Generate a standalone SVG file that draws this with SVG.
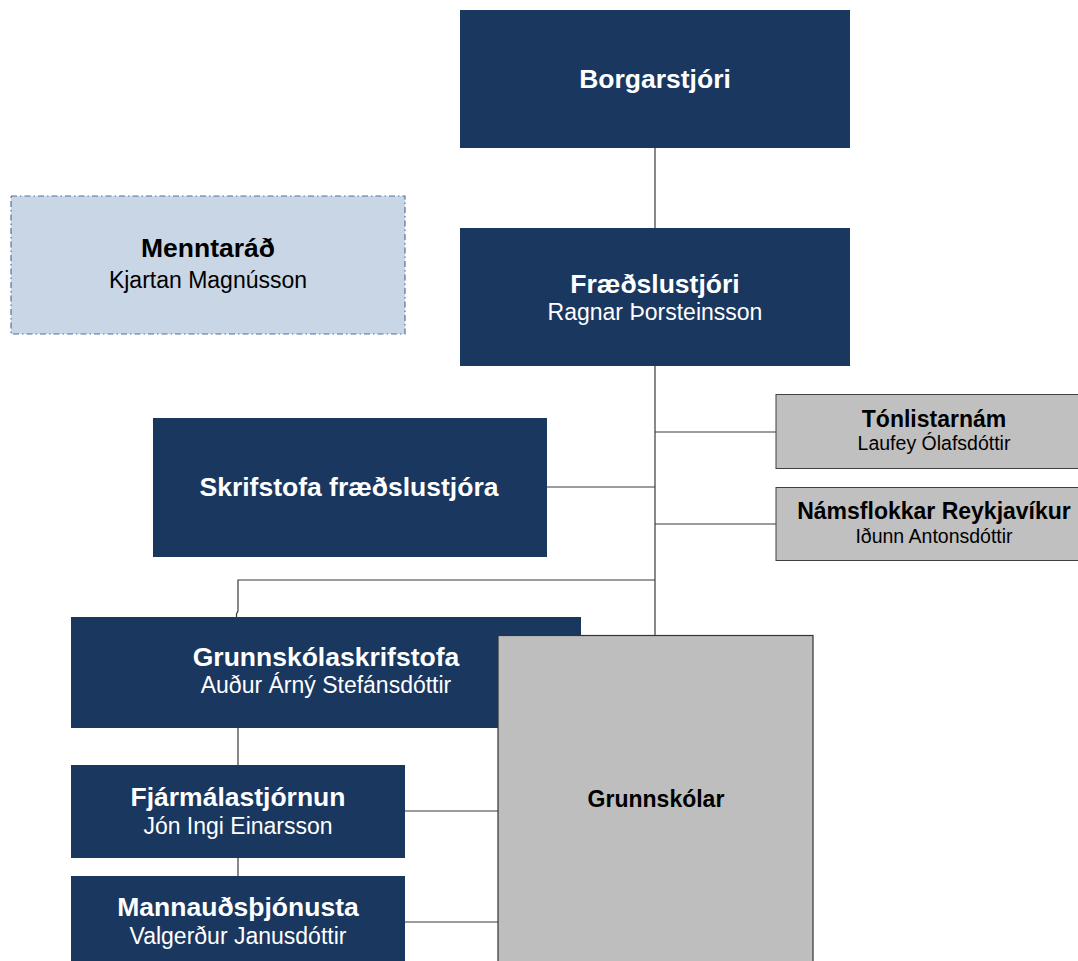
<svg xmlns="http://www.w3.org/2000/svg" width="1078" height="961" viewBox="0 0 1078 961">
<style>
.navy{fill:#1a3760;}
.grey{fill:#c0c0c0;stroke:#404040;stroke-width:1;}
.light{fill:#c9d6e6;stroke:#4f73a0;stroke-width:1.2;stroke-dasharray:6,3,1.5,3;}
.conn{stroke:#3a3a3a;stroke-width:1.2;fill:none;}
text{font-family:"Liberation Sans",Arial,sans-serif;text-anchor:middle;}
.tb{font-weight:bold;font-size:26.5px;fill:#fff;}
.tr{font-size:23px;fill:#fff;}
.sb{font-weight:bold;font-size:23px;fill:#000;}
.sr{font-size:19.5px;fill:#000;}
.mb{font-weight:bold;font-size:26.5px;fill:#000;}
.mr{font-size:23px;fill:#000;}
</style>
<rect width="1078" height="961" fill="#fff"/>
<g id="connectors">
<line class="conn" x1="655" y1="148" x2="655" y2="228"/>
<line class="conn" x1="655" y1="366" x2="655" y2="635"/>
<line class="conn" x1="655" y1="432" x2="776" y2="432"/>
<line class="conn" x1="655" y1="524" x2="776" y2="524"/>
<line class="conn" x1="547" y1="487" x2="655" y2="487"/>
<polyline class="conn" points="655,580 238,580 238,611 236.5,614 236.5,617"/>
<line class="conn" x1="238" y1="728" x2="238" y2="765"/>
<line class="conn" x1="238" y1="857" x2="238" y2="876"/>
<line class="conn" x1="405" y1="811" x2="498" y2="811"/>
<line class="conn" x1="405" y1="922" x2="498" y2="922"/>
</g>
<g id="borgarstjori">
<rect class="navy" x="460" y="10" width="390" height="138"/>
<text class="tb" x="655" y="88">Borgarstjóri</text>
</g>
<g id="menntarad">
<rect class="light" x="11" y="196" width="394" height="138"/>
<text class="mb" x="208" y="257">Menntaráð</text>
<text class="mr" x="208" y="288">Kjartan Magnússon</text>
</g>
<g id="fraedslustjori">
<rect class="navy" x="460" y="228" width="390" height="138"/>
<text class="tb" x="655" y="293">Fræðslustjóri</text>
<text class="tr" x="655" y="320">Ragnar Þorsteinsson</text>
</g>
<g id="tonlistarnam">
<rect class="grey" x="776" y="394.5" width="320" height="74"/>
<text class="sb" x="934" y="427">Tónlistarnám</text>
<text class="sr" x="934" y="450">Laufey Ólafsdóttir</text>
</g>
<g id="namsflokkar">
<rect class="grey" x="776" y="487.5" width="320" height="73"/>
<text class="sb" x="934" y="519">Námsflokkar Reykjavíkur</text>
<text class="sr" x="934" y="543">Iðunn Antonsdóttir</text>
</g>
<g id="skrifstofa">
<rect class="navy" x="153" y="418" width="394" height="139"/>
<text class="tb" x="349" y="496">Skrifstofa fræðslustjóra</text>
</g>
<g id="grunnskolaskrifstofa">
<rect class="navy" x="71" y="617" width="510" height="111"/>
<text class="tb" x="326" y="666">Grunnskólaskrifstofa</text>
<text class="tr" x="326" y="693">Auður Árný Stefánsdóttir</text>
</g>
<g id="grunnskolar">
<rect x="498" y="635.5" width="315" height="340" fill="#bebebe" stroke="#333" stroke-width="1.2"/>
<text class="sb" x="656" y="807">Grunnskólar</text>
</g>
<g id="fjarmalastjornun">
<rect class="navy" x="71" y="765" width="334" height="93"/>
<text class="tb" x="238" y="806">Fjármálastjórnun</text>
<text class="tr" x="238" y="834">Jón Ingi Einarsson</text>
</g>
<g id="mannaudsthjonusta">
<rect class="navy" x="71" y="876" width="334" height="100"/>
<text class="tb" x="238" y="916">Mannauðsþjónusta</text>
<text class="tr" x="238" y="944">Valgerður Janusdóttir</text>
</g>
</svg>
